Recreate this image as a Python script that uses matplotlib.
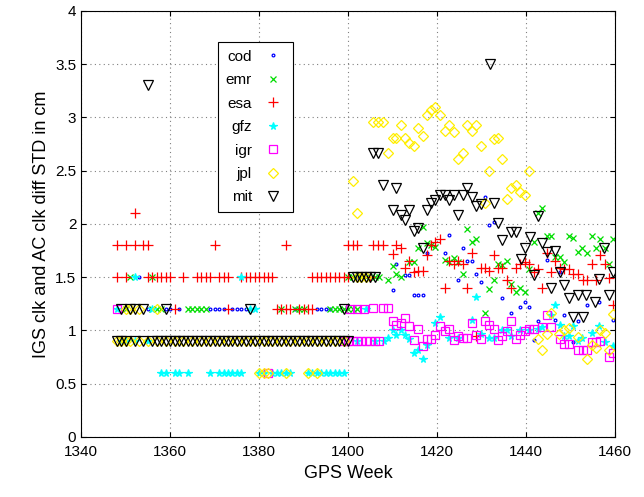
import matplotlib
matplotlib.use("Agg")
import matplotlib.pyplot as plt

# ---- data (GPS week, STD in cm) ----
# flat period: quantized levels
mit_flat09 = [1348, 1349, 1350, 1352, 1354, 1356, 1357, 1358, 1359, 1360, 1361, 1362, 1363, 1364,
              1365, 1366, 1367, 1368, 1369, 1370, 1371, 1372, 1373, 1374, 1375, 1376, 1377, 1378,
              1379, 1380, 1381, 1382, 1383, 1384, 1385, 1386, 1387, 1388, 1389, 1390, 1391, 1392,
              1393, 1394, 1395, 1396, 1397, 1398, 1399, 1400]
mit_flat12 = [1349, 1351, 1352, 1354, 1359, 1378, 1399]
mit_flat15 = [1401, 1402, 1403, 1404, 1405, 1406]
mit_late_w = [1355, 1405.6, 1406.7, 1407.9, 1410.8, 1410.0, 1412.0, 1412.8, 1413.7, 1414.8, 1415.7,
              1416.8, 1417.8, 1418.6, 1419.5, 1420.7, 1421.8, 1422.7, 1423.8, 1424.8, 1425.8, 1426.8,
              1427.8, 1428.8, 1429.8, 1432.0, 1432.7, 1433.7, 1434.7, 1436.7, 1437.8, 1438.8, 1439.7,
              1440.8, 1441.8, 1442.8, 1443.6, 1444.6, 1445.6, 1446.6, 1447.6, 1448.6, 1449.6, 1450.6,
              1451.6, 1452.8, 1453.5, 1455.6, 1456.5, 1457.5, 1458.6, 1459.6]
mit_late_v = [3.3, 2.67, 2.67, 2.37, 2.34, 2.13, 2.08, 2.04, 2.13, 1.93, 1.96,
              1.77, 2.13, 2.2, 2.22, 2.27, 2.27, 2.22, 2.27, 2.08, 2.27, 2.34,
              2.25, 2.17, 2.19, 3.5, 2.2, 2.01, 1.85, 1.92, 1.92, 1.67, 1.77,
              1.88, 1.52, 2.07, 1.82, 1.74, 1.40, 1.75, 1.55, 1.43, 1.30, 1.13,
              1.33, 1.13, 1.33, 1.27, 1.48, 1.77, 1.33, 1.55]

jpl_flat09 = [1348, 1349, 1350, 1351, 1353, 1355, 1357, 1359, 1361, 1363, 1365, 1367, 1369, 1371,
              1373, 1375, 1377, 1379, 1381, 1383, 1385, 1387, 1389, 1391, 1393, 1395, 1397, 1399]
jpl_flat12 = [1350, 1351, 1353, 1357]
jpl_flat06 = [1380, 1381, 1382, 1386, 1391, 1393]
jpl_flat15 = [1402, 1403, 1404]
jpl_late_w = [1401, 1402, 1405.6, 1406.7, 1407.9, 1408.9, 1410.0, 1410.8, 1412.0, 1412.8, 1413.7,
              1414.8, 1415.7, 1416.8, 1417.8, 1418.7, 1419.6, 1420.7, 1421.7, 1422.7, 1423.8, 1424.8,
              1425.8, 1426.8, 1427.8, 1428.8, 1429.8, 1430.8, 1431.7, 1432.7, 1433.7, 1434.7, 1435.7,
              1436.7, 1437.7, 1438.7, 1439.7, 1440.7, 1442.7, 1443.6, 1444.6, 1445.7, 1447.5, 1448.6,
              1449.6, 1451.6, 1453.8, 1454.8, 1455.8, 1456.7, 1457.7, 1458.6, 1459.5]
jpl_late_v = [2.4, 2.1, 2.96, 2.96, 2.96, 2.67, 2.81, 2.81, 2.93, 2.81, 2.76,
              2.73, 2.9, 2.83, 3.02, 3.07, 3.1, 3.02, 2.87, 2.93, 2.86, 2.61,
              2.67, 2.93, 2.87, 2.93, 2.73, 2.2, 2.5, 2.8, 2.81, 2.61, 2.23,
              2.34, 2.37, 2.3, 2.27, 2.5, 0.92, 0.82, 0.97, 1.16, 0.97, 1.0,
              1.02, 0.94, 0.73, 0.86, 0.83, 1.0, 0.98, 0.82, 1.15]

esa_flat15 = [1348, 1350, 1355, 1356, 1357, 1358, 1359, 1360, 1363, 1366, 1367, 1368, 1369, 1371,
              1372, 1373, 1376, 1377, 1378, 1379, 1380, 1381, 1382, 1383, 1392, 1393, 1394, 1395,
              1396, 1397, 1398, 1399, 1400, 1405]
esa_flat18 = [1348, 1350, 1352, 1354, 1355, 1370, 1386, 1400, 1401, 1402, 1405.6, 1406.7, 1407.9]
esa_flat12 = [1361, 1373, 1384, 1385, 1386, 1387, 1389, 1390, 1391, 1392]
esa_late_w = [1352, 1410.0, 1410.8, 1412.0, 1412.8, 1413.7, 1414.8, 1415.7, 1416.8, 1417.8, 1418.7,
              1419.6, 1420.7, 1421.7, 1422.7, 1423.8, 1424.8, 1425.8, 1426.8, 1427.8, 1428.8, 1429.8,
              1430.8, 1431.7, 1432.7, 1433.7, 1434.7, 1435.7, 1436.7, 1437.7, 1438.7, 1439.7, 1440.7,
              1441.7, 1442.7, 1443.6, 1444.6, 1445.6, 1446.6, 1447.6, 1448.6, 1449.6, 1450.6, 1451.6,
              1452.7, 1453.8, 1454.8, 1455.8, 1456.7, 1457.7, 1458.6, 1459.5]
esa_late_v = [2.1, 1.72, 1.8, 1.77, 1.59, 1.65, 1.55, 1.56, 1.56, 1.71, 1.8,
              1.83, 1.86, 1.4, 1.65, 1.62, 1.65, 1.62, 1.4, 1.73, 0.95, 1.59,
              1.59, 1.56, 1.71, 1.59, 1.59, 1.47, 1.4, 1.59, 1.62, 1.64, 1.62,
              1.55, 1.58, 1.4, 1.73, 1.55, 1.65, 1.59, 1.58, 1.58, 1.53, 1.53,
              1.47, 1.47, 1.62, 1.47, 1.71, 1.62, 1.49, 1.24]

emr_flat12 = [1350, 1356, 1357, 1358, 1364, 1365, 1366, 1367, 1368, 1385, 1388, 1389, 1390,
              1396, 1397, 1398, 1399, 1400, 1401, 1402]
emr_flat15 = [1351, 1356, 1400, 1401, 1403, 1404, 1406, 1407]
emr_late_w = [1408.9, 1410.0, 1410.8, 1412.0, 1413.7, 1414.8, 1415.7, 1416.8, 1417.8, 1418.7, 1419.6,
              1421.7, 1422.7, 1423.8, 1424.8, 1425.8, 1426.8, 1427.8, 1428.8, 1430.8, 1431.7, 1432.7,
              1433.7, 1434.7, 1435.7, 1436.7, 1437.7, 1438.7, 1439.7, 1440.7, 1441.7, 1442.7, 1443.6,
              1444.6, 1445.6, 1446.6, 1447.6, 1448.6, 1449.6, 1450.6, 1451.6, 1452.6, 1453.6, 1454.8,
              1455.8, 1456.7, 1457.7, 1458.6, 1459.5]
emr_late_v = [1.47, 1.6, 1.53, 1.5, 1.64, 1.64, 1.77, 1.97, 1.82, 1.8, 1.78,
              1.66, 1.64, 1.68, 1.64, 1.53, 1.95, 1.83, 1.86, 1.16, 1.39, 1.47,
              1.62, 1.61, 1.65, 1.44, 1.36, 1.4, 1.36, 1.58, 1.83, 2.1, 2.15,
              1.89, 1.89, 1.69, 1.69, 1.64, 1.89, 1.87, 1.74, 1.77, 1.73, 1.89,
              1.77, 1.86, 1.77, 1.62, 1.86]

cod_flat12 = [1355, 1359, 1360, 1362, 1369, 1370, 1371, 1372, 1374, 1375, 1376, 1377, 1388,
              1393, 1394, 1395, 1396]
cod_flat15 = [1353, 1402]
cod_late_w = [1410.0, 1410.8, 1412.8, 1413.7, 1414.8, 1415.7, 1416.8, 1417.8, 1421.7, 1422.7, 1424.8,
              1425.8, 1426.8, 1427.8, 1428.8, 1429.8, 1430.8, 1431.7, 1432.7, 1434.7, 1436.7, 1438.7,
              1439.7, 1440.7, 1441.7, 1442.7, 1444.6, 1446.6, 1447.6, 1448.6, 1450.6, 1451.6, 1453.6,
              1456.5, 1459.5]
cod_late_v = [1.38, 1.62, 1.52, 1.52, 1.33, 1.33, 1.33, 1.73, 1.73, 1.9, 1.47,
              1.77, 1.65, 1.65, 1.53, 1.45, 2.25, 1.99, 2.02, 1.3, 1.16, 1.22,
              1.27, 1.22, 0.91, 1.09, 1.66, 1.1, 1.55, 1.14, 0.89, 1.09, 1.24,
              1.27, 1.1]

gfz_flat06 = [1358, 1359, 1361, 1362, 1364, 1369, 1371, 1372, 1373, 1374, 1375, 1376, 1380,
              1381, 1383, 1384, 1385, 1386, 1387, 1391, 1392, 1393, 1394, 1395, 1396, 1397,
              1398, 1399]
gfz_flat09 = [1349, 1350, 1352, 1355, 1402, 1406, 1408]
gfz_flat12 = [1348, 1356, 1378, 1379, 1404]
gfz_flat15 = [1352, 1376]
gfz_late_w = [1408.9, 1410.0, 1410.8, 1412.0, 1412.8, 1413.7, 1414.8, 1415.7, 1416.8, 1417.8, 1419.6,
              1420.7, 1422.7, 1424.8, 1427.8, 1428.8, 1429.8, 1431.7, 1432.7, 1434.7, 1435.7, 1436.7,
              1438.7, 1440.7, 1442.7, 1443.6, 1445.6, 1446.6, 1447.6, 1448.6, 1449.6, 1450.6, 1451.6,
              1452.6, 1454.8, 1456.5, 1457.7, 1459.5]
gfz_late_v = [0.93, 1.0, 0.96, 1.0, 0.96, 0.92, 0.79, 0.82, 0.73, 0.86, 1.07,
              1.13, 0.93, 0.93, 1.1, 1.31, 0.97, 0.93, 0.93, 1.0, 1.0, 0.95,
              1.0, 1.0, 1.01, 1.03, 1.14, 1.24, 1.05, 0.95, 0.95, 1.04, 0.9,
              0.93, 0.98, 1.04, 0.89, 0.85]

igr_flat09 = [1399, 1400, 1401, 1402, 1403, 1404, 1405, 1406, 1407]
igr_flat12 = [1348, 1400.5, 1402, 1403.5]
igr_flat06 = [1382]
igr_late_w = [1405.6, 1407.9, 1408.9, 1410.0, 1410.8, 1412.0, 1412.8, 1413.7, 1414.8, 1415.7, 1416.8,
              1417.8, 1418.7, 1419.6, 1420.7, 1421.7, 1422.7, 1423.8, 1424.8, 1425.8, 1426.8, 1427.8,
              1428.8, 1429.8, 1430.8, 1431.7, 1432.7, 1433.7, 1434.7, 1435.7, 1436.7, 1437.7, 1438.7,
              1439.7, 1440.7, 1441.7, 1443.6, 1444.6, 1445.6, 1447.6, 1448.6, 1449.6, 1451.6, 1452.7,
              1453.8, 1454.8, 1455.8, 1456.7, 1458.6, 1459.5]
igr_late_v = [1.21, 1.21, 1.21, 1.09, 1.05, 1.07, 1.12, 1.04, 0.91, 1.01, 0.85,
              0.92, 0.92, 0.96, 1.04, 0.99, 1.01, 0.91, 0.95, 0.93, 0.93, 1.07,
              0.96, 0.92, 1.09, 1.05, 1.01, 0.91, 0.95, 0.99, 1.09, 0.92, 0.96,
              0.99, 1.01, 1.01, 1.03, 1.14, 1.03, 0.92, 0.87, 0.87, 0.82, 0.82,
              0.82, 0.89, 0.89, 0.9, 0.75, 0.79]


def series(groups):
    xs, ys = [], []
    for weeks, val in groups:
        if isinstance(val, list):
            xs += weeks
            ys += val
        else:
            xs += weeks
            ys += [val] * len(weeks)
    return xs, ys


data = {
    "cod": series([(cod_flat12, 1.2), (cod_flat15, 1.5), (cod_late_w, cod_late_v)]),
    "emr": series([(emr_flat12, 1.2), (emr_flat15, 1.5), (emr_late_w, emr_late_v)]),
    "esa": series([(esa_flat15, 1.5), (esa_flat18, 1.8), (esa_flat12, 1.2), (esa_late_w, esa_late_v)]),
    "gfz": series([(gfz_flat06, 0.6), (gfz_flat09, 0.9), (gfz_flat12, 1.2), (gfz_flat15, 1.5),
                   (gfz_late_w, gfz_late_v)]),
    "igr": series([(igr_flat09, 0.9), (igr_flat12, 1.2), (igr_flat06, 0.6), (igr_late_w, igr_late_v)]),
    "jpl": series([(jpl_flat09, 0.9), (jpl_flat12, 1.2), (jpl_flat06, 0.6), (jpl_flat15, 1.5),
                   (jpl_late_w, jpl_late_v)]),
    "mit": series([(mit_flat09, 0.9), (mit_flat12, 1.2), (mit_flat15, 1.5), (mit_late_w, mit_late_v)]),
}

styles = {
    "cod": dict(marker="o", color="blue", ms=2.0, fill=False),
    "emr": dict(marker="x", color="#00dd00", ms=4.5, fill=True),
    "esa": dict(marker="+", color="red", ms=6.5, fill=True),
    "gfz": dict(marker="*", color="cyan", ms=5.5, fill=True),
    "igr": dict(marker="s", color="magenta", ms=5.5, fill=False),
    "jpl": dict(marker="D", color="#ffee00", ms=5.0, fill=False),
    "mit": dict(marker="v", color="black", ms=7, fill=False),
}

plt.rcParams["font.family"] = ["Liberation Sans", "DejaVu Sans"]
fig = plt.figure(figsize=(6.44, 4.97), dpi=100)
ax = fig.add_axes([0.126, 0.121, 0.829, 0.857])

for name, (xs, ys) in data.items():
    st = styles[name]
    ax.plot(xs, ys, linestyle="none", marker=st["marker"], ms=st["ms"],
            color=st["color"], mfc=st["color"] if st["fill"] else "none",
            mec=st["color"], mew=0.9, label=name)

ax.set_xlim(1340, 1460)
ax.set_ylim(0, 4)
ax.set_xticks(range(1340, 1461, 20))
ax.set_yticks([0, 0.5, 1, 1.5, 2, 2.5, 3, 3.5, 4])
ax.set_yticklabels(["0", "0.5", "1", "1.5", "2", "2.5", "3", "3.5", "4"])
ax.tick_params(direction="in", top=True, right=True, labelsize=11)
ax.tick_params(axis="x", pad=6)
ax.grid(True, linestyle=(0, (1, 3)), color="gray", linewidth=0.8)
ax.set_xlabel("GPS Week", fontsize=13)
ax.set_ylabel("IGS clk and AC clk diff STD in cm", fontsize=13)

leg = ax.legend(loc="upper left", bbox_to_anchor=(0.242, 0.945), fontsize=11,
                fancybox=False, edgecolor="black", framealpha=1, handletextpad=0.6,
                handlelength=1.6, borderpad=0.5, labelspacing=0.62, markerfirst=False)
leg.get_frame().set_linewidth(0.8)

fig.savefig("out.png", dpi=100)
